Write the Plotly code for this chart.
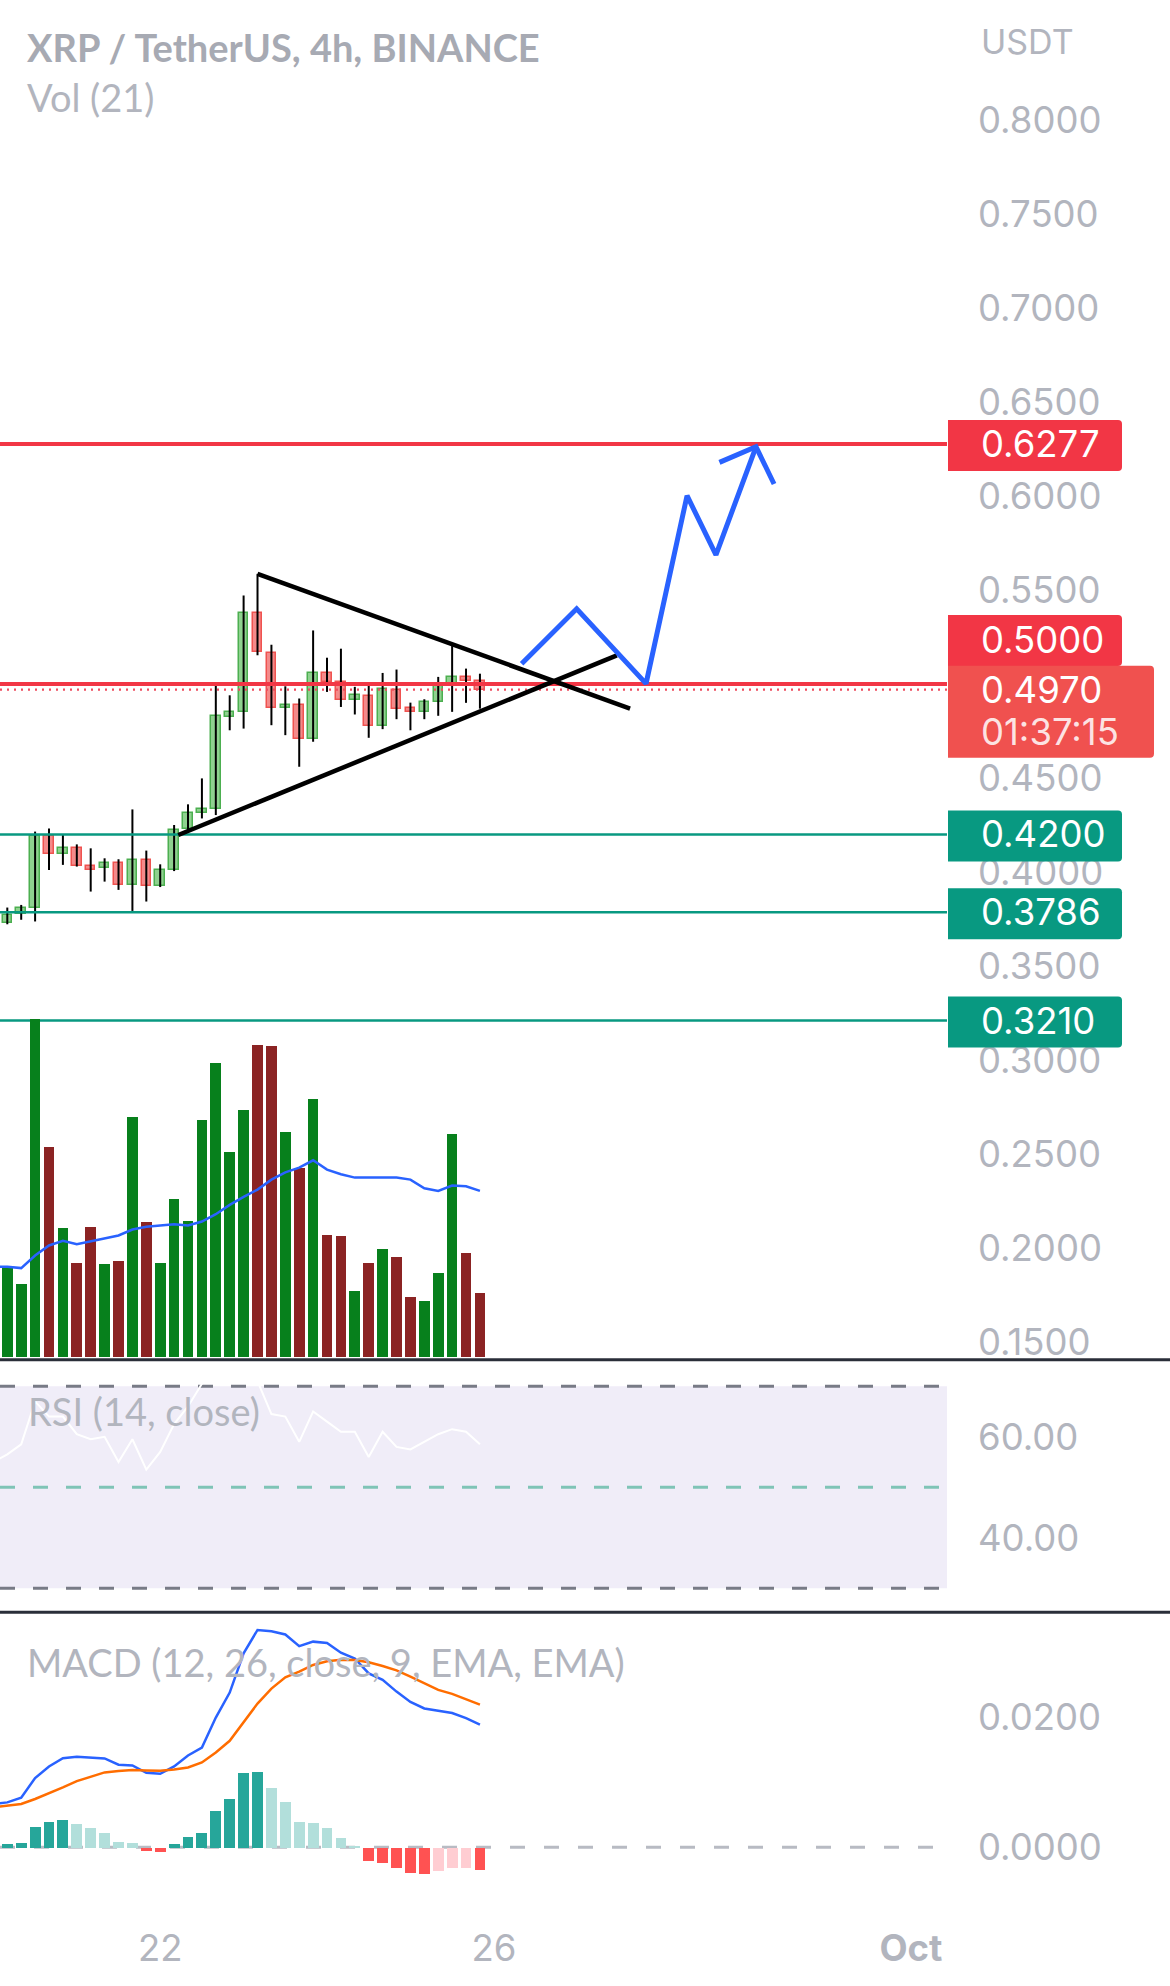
import pandas as pd
import plotly.graph_objects as go

# ---------------- data ----------------
START = pd.Timestamp("2022-09-20 04:00")
BAR = pd.Timedelta(hours=4)

OPEN = [0.3728, 0.3776, 0.3808, 0.4193, 0.4094, 0.4130, 0.4034, 0.4020, 0.4046, 0.3931,
        0.4064, 0.3928, 0.4011, 0.4229, 0.4315, 0.4333, 0.4825, 0.4852, 0.5379, 0.5165,
        0.4873, 0.4887, 0.4707, 0.5059, 0.5011, 0.4914, 0.4935, 0.4777, 0.4967, 0.4873,
        0.4852, 0.4905, 0.4997, 0.5038, 0.5015]
HIGH = [0.3811, 0.3825, 0.4215, 0.4232, 0.4197, 0.4147, 0.4126, 0.4073, 0.4068, 0.4333,
        0.4114, 0.4041, 0.4250, 0.4360, 0.4498, 0.4993, 0.4940, 0.5471, 0.5586, 0.5209,
        0.4988, 0.4923, 0.5285, 0.5140, 0.5188, 0.4985, 0.4993, 0.5059, 0.5077, 0.4901,
        0.4919, 0.5038, 0.5202, 0.5082, 0.5055]
LOW = [0.3722, 0.3746, 0.3737, 0.4011, 0.4038, 0.4029, 0.3896, 0.3949, 0.3905, 0.3793,
       0.3843, 0.3920, 0.4005, 0.4223, 0.4285, 0.4303, 0.4754, 0.4763, 0.5153, 0.4781,
       0.4728, 0.4560, 0.4693, 0.4958, 0.4878, 0.4838, 0.4714, 0.4760, 0.4813, 0.4754,
       0.4813, 0.4831, 0.4852, 0.4900, 0.4869]
CLOSE = [0.3772, 0.3808, 0.4193, 0.4094, 0.4126, 0.4034, 0.4011, 0.4046, 0.3931, 0.4064,
         0.3928, 0.4011, 0.4223, 0.4315, 0.4333, 0.4831, 0.4852, 0.5379, 0.5170, 0.4873,
         0.4887, 0.4707, 0.5059, 0.5011, 0.4914, 0.4940, 0.4777, 0.4972, 0.4869, 0.4852,
         0.4905, 0.4993, 0.5038, 0.5015, 0.4970]
VOLUME = [134, 110, 508, 316, 195, 142, 196, 140, 145, 361,
          204, 142, 238, 205, 357, 442, 309, 372, 469, 468,
          339, 285, 388, 184, 183, 99, 141, 162, 150, 91,
          84, 127, 336, 157, 97]

# indicator series start one bar before the first visible candle
VOL_MA = [136, 136, 134, 153, 168, 175, 170, 174, 178, 183, 192, 196, 198, 200, 198, 204,
          215, 229, 241, 252, 267, 278, 285, 296, 282, 275, 270, 270, 269, 270, 267, 254,
          250, 258, 257, 250]
RSI = [55, 56.5, 58.5, 67, 64, 64, 60.5, 59.5, 60, 55, 59.5, 53.5, 57, 62.5, 66, 70.5, 74,
       73.5, 79, 71, 64.5, 64, 59, 65, 63, 61, 61, 56, 61, 58, 57.5, 59, 60.5, 61.5, 61, 58.5]
MACD = [0.00667, 0.00692, 0.00764, 0.01067, 0.01246, 0.01374, 0.01395, 0.01385, 0.01369,
        0.01272, 0.01262, 0.01149, 0.01133, 0.01246, 0.01415, 0.01538, 0.0200, 0.02385,
        0.0299, 0.0335, 0.0333, 0.0328, 0.0310, 0.0317, 0.0315, 0.0300, 0.0291, 0.0268,
        0.0258, 0.0240, 0.0224, 0.0214, 0.0210, 0.0207, 0.0199, 0.0189]
SIGNAL = [0.00615, 0.00641, 0.00667, 0.00744, 0.00831, 0.00923, 0.0102, 0.01087, 0.01154,
          0.01174, 0.0119, 0.01185, 0.0118, 0.012, 0.01231, 0.01308, 0.01462, 0.01641,
          0.01923, 0.02215, 0.02446, 0.0262, 0.02708, 0.0281, 0.02867, 0.02892, 0.02887,
          0.02851, 0.02795, 0.02728, 0.02631, 0.02528, 0.02426, 0.02364, 0.02287, 0.022]
HIST = [0.00056, 0.00077, 0.00323, 0.004, 0.00426, 0.00364, 0.00297, 0.00231, 0.00092,
        0.00077, -0.00046, -0.00072, 0.00056, 0.00169, 0.00231, 0.00569, 0.00744, 0.01144,
        0.01169, 0.00923, 0.00708, 0.004, 0.00385, 0.00297, 0.00144, 0.00026, -0.00215,
        -0.00231, -0.00318, -0.00395, -0.0041, -0.00359, -0.00318, -0.00318, -0.00344]

RED_LEVELS = [0.6277, 0.5000]
TEAL_LEVELS = [0.4200, 0.3786, 0.3210]
LAST_PRICE = 0.4970
COUNTDOWN = "01:37:15"

# 0.5000 sits under its own level label, so it is not listed as a tick
PRICE_TICKS = [0.15, 0.20, 0.25, 0.30, 0.35, 0.40, 0.45, 0.55, 0.60, 0.65, 0.70, 0.75, 0.80]
RSI_TICKS = [40, 60]
MACD_TICKS = [0.0, 0.02]
DATE_TICKS = ["2022-09-22", "2022-09-26", "2022-10-01"]
DATE_TICK_TEXT = ["22", "26", "<b>Oct</b>"]

# user drawings: (bar offset from first candle, price)
TRI_UPPER_BARS = [18.0, 44.8]
TRI_UPPER_PRICES = [0.5586, 0.4869]
TRI_LOWER_BARS = [12.3, 43.85]
TRI_LOWER_PRICES = [0.4197, 0.5152]
PATH_BARS = [37.0, 40.96, 45.95, 48.9, 50.98, 53.86]
PATH_PRICES = [0.5108, 0.5400, 0.5002, 0.6002, 0.5687, 0.6262]
HEAD_BARS = [51.23, 53.86, 55.16]
HEAD_PRICES = [0.6179, 0.6262, 0.6064]

# ---------------- layout constants ----------------
W, H = 1170, 1986
PLOT_R = 947
MS4H = 4 * 3600 * 1000


def t(i):
    return START + BAR * i


def py(px):
    return 1 - px / H


times = [t(i) for i in range(len(OPEN))]
times_ind = [t(i - 1) for i in range(len(RSI))]
XMIN, XMAX = t(-0.525), t(67.6)

GRAY = "#b2b5be"
TICKFONT = dict(family="Inter", size=36.5, color=GRAY)

up = [c >= o for o, c in zip(OPEN, CLOSE)]

fig = go.Figure()

# volume
fig.add_trace(go.Bar(
    x=times, y=VOLUME, yaxis="y2", width=0.77 * MS4H,
    marker=dict(color=["#07801c" if u else "#8b2323" for u in up], line=dict(width=0)),
    hoverinfo="skip"))
fig.add_trace(go.Scatter(x=times_ind, y=VOL_MA, yaxis="y2", mode="lines",
                         line=dict(color="#2962ff", width=2.5), hoverinfo="skip"))

# wicks
wx, wy = [], []
for ti, lo, hi in zip(times, LOW, HIGH):
    wx += [ti, ti, None]
    wy += [lo, hi, None]
fig.add_trace(go.Scatter(x=wx, y=wy, mode="lines", line=dict(color="#000000", width=2),
                         hoverinfo="skip"))
# bodies
fig.add_trace(go.Bar(
    x=times, y=[abs(c - o) for o, c in zip(OPEN, CLOSE)],
    base=[min(o, c) for o, c in zip(OPEN, CLOSE)],
    width=0.68 * MS4H,
    marker=dict(color=["#8fd18f" if u else "#f48a8a" for u in up],
                line=dict(color=["#4caf50" if u else "#ef5350" for u in up], width=1.5)),
    hoverinfo="skip"))

# horizontal levels
for lv in RED_LEVELS:
    fig.add_trace(go.Scatter(x=[XMIN, XMAX], y=[lv, lv], mode="lines",
                             line=dict(color="#f23645", width=4), hoverinfo="skip"))
for lv in TEAL_LEVELS:
    fig.add_trace(go.Scatter(x=[XMIN, XMAX], y=[lv, lv], mode="lines",
                             line=dict(color="#089981", width=2.5), hoverinfo="skip"))
fig.add_trace(go.Scatter(x=[XMIN, XMAX], y=[LAST_PRICE, LAST_PRICE], mode="lines",
                         line=dict(color="#ee4d5f", width=2.2, dash="2px,5px"), hoverinfo="skip"))

# triangle
fig.add_trace(go.Scatter(x=[t(b) for b in TRI_UPPER_BARS], y=TRI_UPPER_PRICES, mode="lines",
                         line=dict(color="#000000", width=4.5), hoverinfo="skip"))
fig.add_trace(go.Scatter(x=[t(b) for b in TRI_LOWER_BARS], y=TRI_LOWER_PRICES, mode="lines",
                         line=dict(color="#000000", width=4.5), hoverinfo="skip"))
# projected path arrow
fig.add_trace(go.Scatter(x=[t(b) for b in PATH_BARS], y=PATH_PRICES, mode="lines",
                         line=dict(color="#2962ff", width=5), hoverinfo="skip"))
fig.add_trace(go.Scatter(x=[t(b) for b in HEAD_BARS], y=HEAD_PRICES, mode="lines",
                         line=dict(color="#2962ff", width=5), hoverinfo="skip"))

# RSI
fig.add_trace(go.Scatter(x=times_ind, y=RSI, yaxis="y3", mode="lines",
                         line=dict(color="#ffffff", width=2), hoverinfo="skip"))

# MACD histogram
hcol = []
for i, h in enumerate(HIST):
    prev = HIST[i - 1] if i > 0 else h - 1e-9
    if h >= 0:
        hcol.append("#26a69a" if h > prev else "#b2dfdb")
    else:
        hcol.append("#ff5252" if h < prev else "#ffcdd2")
fig.add_trace(go.Bar(x=times, y=HIST, yaxis="y4", width=0.78 * MS4H,
                     marker=dict(color=hcol, line=dict(width=0)), hoverinfo="skip"))
fig.add_trace(go.Scatter(x=times_ind, y=MACD, yaxis="y4", mode="lines",
                         line=dict(color="#2962ff", width=2.5), hoverinfo="skip"))
fig.add_trace(go.Scatter(x=times_ind, y=SIGNAL, yaxis="y4", mode="lines",
                         line=dict(color="#ff6d00", width=2.5), hoverinfo="skip"))

# ---------------- shapes ----------------
shapes = []
# RSI band + lines
shapes.append(dict(type="rect", xref="paper", yref="y3", x0=0, x1=PLOT_R / W, y0=30, y1=70,
                   fillcolor="#f0edf8", line=dict(width=0), layer="below"))
for lv, col in [(70, "#787b86"), (30, "#787b86"), (50, "#7fc4b6")]:
    shapes.append(dict(type="line", xref="paper", yref="y3", x0=0, x1=PLOT_R / W, y0=lv, y1=lv,
                       line=dict(color=col, width=3, dash="15px,18px"), layer="below"))
# MACD zero line
shapes.append(dict(type="line", xref="paper", yref="y4", x0=0, x1=PLOT_R / W, y0=0, y1=0,
                   line=dict(color="#b8bbc3", width=3, dash="15px,19px"), layer="below"))
# pane separators
for sep in (1362.5, 1615.5):
    shapes.append(dict(type="line", xref="paper", yref="paper", x0=0, x1=1, y0=py(sep), y1=py(sep),
                       line=dict(color="#2a2e39", width=3), layer="above"))


def label_box(level, top, bottom, right, color):
    r = 4
    path = (f"M 948,{bottom} H {right - r} Q {right},{bottom} {right},{bottom + r} "
            f"V {top - r} Q {right},{top} {right - r},{top} H 948 Z")
    return dict(type="path", path=path, xref="paper", xsizemode="pixel", xanchor=0,
                yref="y", ysizemode="pixel", yanchor=level, fillcolor=color,
                line=dict(width=0), layer="above")


shapes.append(label_box(RED_LEVELS[0], 24, -27, 1122, "#f23645"))
shapes.append(label_box(RED_LEVELS[1], 69, 18, 1122, "#f23645"))
shapes.append(label_box(LAST_PRICE, 24, -68, 1154, "#f0514f"))
for lv in TEAL_LEVELS:
    shapes.append(label_box(lv, 24, -27, 1122, "#089981"))

# ---------------- annotations ----------------
ann = []


def txt(text, xpx, ypx, size, color, family="Lato"):
    ann.append(dict(text=text, x=xpx / W, y=py(ypx), xref="paper", yref="paper",
                    xanchor="left", yanchor="middle", showarrow=False,
                    font=dict(family=family, size=size, color=color)))


txt("<b>XRP / TetherUS, 4h, BINANCE</b>", 25, 47, 38, "#a7aab3")
txt("Vol (21)", 25, 97, 38, GRAY)
txt("USDT", 979, 42, 34, GRAY, family="Inter")
txt("RSI (14, close)", 26, 1414, 38, GRAY)
txt("MACD (12, 26, close, 9, EMA, EMA)", 25, 1665, 38, GRAY)


def level_text(text, level, yshift, color="#ffffff"):
    ann.append(dict(text=text, x=979 / W, xref="paper", y=level, yref="y",
                    xanchor="left", yanchor="middle", yshift=yshift, showarrow=False,
                    font=dict(family="Inter", size=36.5, color=color)))


level_text(f"{RED_LEVELS[0]:.4f}", RED_LEVELS[0], 0)
level_text(f"{RED_LEVELS[1]:.4f}", RED_LEVELS[1], 44)
level_text(f"{LAST_PRICE:.4f}", LAST_PRICE, 0)
level_text(COUNTDOWN, LAST_PRICE, -42, "rgba(255,255,255,0.85)")
for lv in TEAL_LEVELS:
    level_text(f"{lv:.4f}", lv, 0)

# ---------------- axes ----------------
price_top = 0.8 + 120.3 / 1883.7
price_bot = 0.8 - (1362 - 120.3) / 1883.7

fig.update_layout(
    width=W, height=H, margin=dict(l=0, r=0, t=0, b=0),
    paper_bgcolor="#ffffff", plot_bgcolor="#ffffff",
    showlegend=False, barmode="overlay", bargap=0,
    xaxis=dict(type="date", domain=[0, PLOT_R / W], range=[XMIN, XMAX], anchor="y4",
               showgrid=False, zeroline=False, showline=False,
               tickvals=DATE_TICKS, ticktext=DATE_TICK_TEXT, tickfont=TICKFONT,
               ticks="", ticklabelstandoff=17),
    yaxis=dict(domain=[py(1362), 1], range=[price_bot, price_top], side="right", anchor="x",
               showgrid=False, zeroline=False, showline=False, tickvals=PRICE_TICKS,
               tickformat=".4f", tickfont=TICKFONT, ticks="", ticklabelstandoff=30),
    yaxis2=dict(overlaying="y", range=[-3, 2040], visible=False),
    yaxis3=dict(domain=[py(1614.5), py(1363.5)], range=[25.45, 75.05], side="right", anchor="x",
                showgrid=False, zeroline=False, showline=False, tickvals=RSI_TICKS,
                tickformat=".2f", tickfont=TICKFONT, ticks="", ticklabelstandoff=30),
    yaxis4=dict(domain=[py(1910), py(1617)], range=[-(1910 - 1851) / 6500, (1851 - 1617) / 6500],
                side="right", anchor="x", showgrid=False, zeroline=False, showline=False,
                tickvals=MACD_TICKS, tickformat=".4f", tickfont=TICKFONT, ticks="",
                ticklabelstandoff=30),
    shapes=shapes, annotations=ann,
)

fig.write_html("out.html")
